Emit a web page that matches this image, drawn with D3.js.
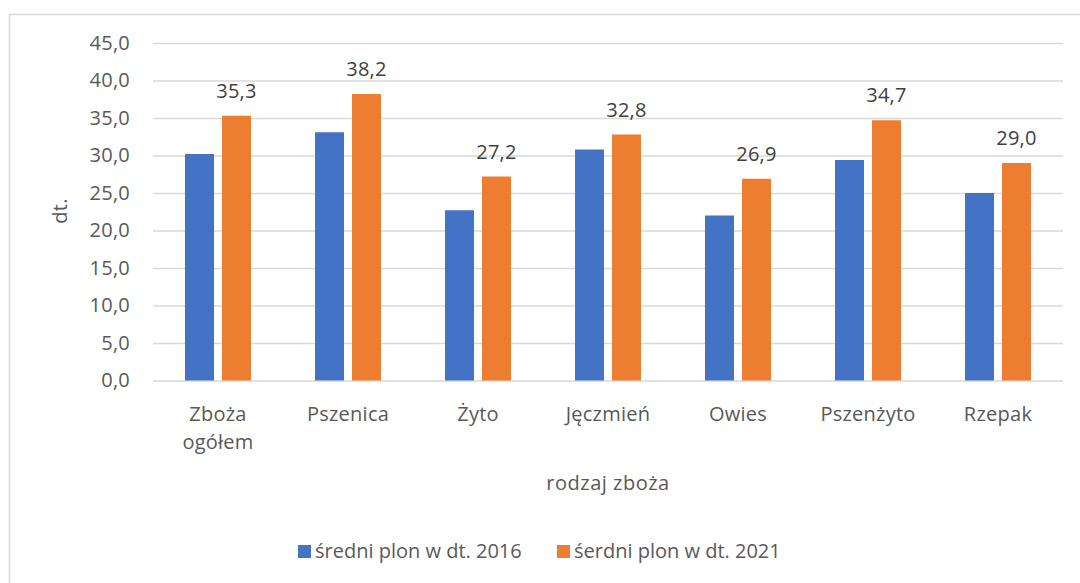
<!DOCTYPE html>
<html>
<head>
<meta charset="utf-8">
<script src="https://cdn.jsdelivr.net/npm/d3@7"></script>
<style>
  html, body { margin: 0; padding: 0; background: #ffffff; }
  svg { display: block; }
  text { font-family: "Open Sans", "Noto Sans", sans-serif; }
</style>
</head>
<body>
<svg id="chart" width="1080" height="583"></svg>
<script>
// Average yield (dt/ha) by crop type, 2016 vs 2021
const categories = [["Zboża", "ogółem"], ["Pszenica"], ["Żyto"], ["Jęczmień"], ["Owies"], ["Pszenżyto"], ["Rzepak"]];
const values2016 = [30.2, 33.1, 22.7, 30.8, 22.0, 29.4, 25.0];
const values2021 = [35.3, 38.2, 27.2, 32.8, 26.9, 34.7, 29.0];
const seriesNames = ["średni plon w dt. 2016", "śerdni plon w dt. 2021"];
const yTicks = [0, 5, 10, 15, 20, 25, 30, 35, 40, 45];
const colors = ["#4472C4", "#ED7D31"];

const FS = 20, LS = 0.25;
const svg = d3.select("#chart");
const fmt = v => d3.format(".1f")(v).replace(".", ",");

// Chart frame (only top and left edges fall inside the view)
svg.append("rect")
  .attr("x", 9.5).attr("y", 14.5)
  .attr("width", 1100).attr("height", 600)
  .attr("fill", "none").attr("stroke", "#d9d9d9").attr("stroke-width", 1.5);

const plot = { left: 153, right: 1063, top: 43, bottom: 380.5 };

const keys = categories.map(c => c.join(" "));
const x0 = d3.scaleBand().domain(keys).range([plot.left, plot.right]).padding(0);
const x1 = d3.scaleBand().domain([0, 1]).range([32, 98]).paddingInner(0.2162).paddingOuter(0);
const y = d3.scaleLinear().domain([0, 45]).range([plot.bottom, plot.top]);

// Horizontal gridlines and y tick labels
const yAxis = d3.axisLeft(y).tickValues(yTicks).tickSize(-(plot.right - plot.left)).tickPadding(23).tickFormat(fmt);
const gy = svg.append("g").attr("transform", `translate(${plot.left},0)`).call(yAxis);
gy.select(".domain").remove();
gy.selectAll(".tick line").attr("stroke", "#d9d9d9").attr("stroke-width", 1.5);
gy.selectAll(".tick text")
  .attr("fill", "#595959").attr("font-size", FS).attr("letter-spacing", LS)
  .attr("font-family", "'Open Sans', sans-serif");

// Bars
const rows = keys.map((k, i) => ({ key: k, vals: [values2016[i], values2021[i]] }));
const groups = svg.append("g").selectAll("g").data(rows).join("g")
  .attr("transform", d => `translate(${x0(d.key)},0)`);

groups.selectAll("rect").data(d => d.vals.map((v, s) => ({ v, s }))).join("rect")
  .attr("x", d => x1(d.s))
  .attr("width", x1.bandwidth())
  .attr("y", d => y(d.v))
  .attr("height", d => y(0) - y(d.v))
  .attr("fill", d => colors[d.s]);

// Value labels on 2021 bars
groups.append("text")
  .attr("x", x1(1) + x1.bandwidth() / 2)
  .attr("y", d => y(d.vals[1]) - 18)
  .attr("text-anchor", "middle")
  .attr("fill", "#404040").attr("font-size", FS).attr("letter-spacing", LS)
  .text(d => fmt(d.vals[1]));

// Category labels
const xAxis = d3.axisBottom(x0).tickSize(0).tickFormat(() => "");
const gx = svg.append("g").attr("transform", `translate(0,${plot.bottom})`).call(xAxis);
gx.select(".domain").remove();
gx.selectAll(".tick").each(function (k, i) {
  const t = d3.select(this).append("text")
    .attr("text-anchor", "middle").attr("fill", "#595959")
    .attr("font-size", FS).attr("letter-spacing", LS);
  categories[i].forEach((line, j) => {
    t.append("tspan").attr("x", 0).attr("y", 40 + j * 28).text(line);
  });
});

// Axis titles
svg.append("text")
  .attr("x", 608).attr("y", 490)
  .attr("text-anchor", "middle").attr("fill", "#595959")
  .attr("font-size", FS).attr("letter-spacing", 0.5)
  .text("rodzaj zboża");

svg.append("text")
  .attr("transform", "translate(67,211) rotate(-90)")
  .attr("text-anchor", "middle").attr("fill", "#595959")
  .attr("font-size", FS).attr("letter-spacing", LS)
  .text("dt.");

// Legend
const legendX = [298, 557];
const legend = svg.append("g").selectAll("g").data(seriesNames).join("g")
  .attr("transform", (d, i) => `translate(${legendX[i]},545)`);
legend.append("rect").attr("width", 13).attr("height", 13).attr("fill", (d, i) => colors[i]);
legend.append("text")
  .attr("x", 17).attr("y", 13)
  .attr("fill", "#595959").attr("font-size", FS).attr("letter-spacing", 0)
  .text(d => d);
</script>
</body>
</html>
